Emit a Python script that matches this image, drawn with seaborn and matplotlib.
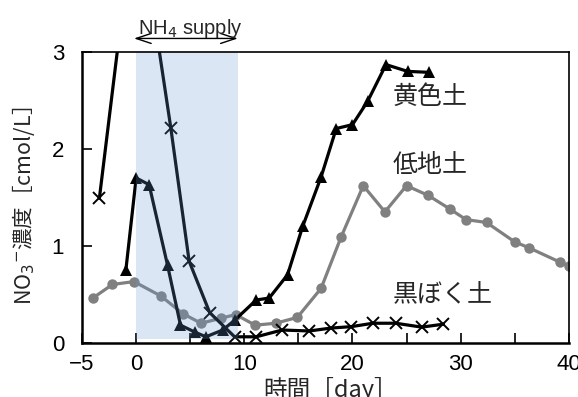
import matplotlib
matplotlib.use("Agg")
import matplotlib.pyplot as plt
import seaborn as sns
import pandas as pd

# 黒ぼく土 (crosses)
kuroboku_day = [-3.4, 0.0, 3.2, 4.9, 6.8, 9.1, 11.1, 13.5, 16.0, 18.0, 19.9, 21.9, 24.0, 26.4, 28.4]
kuroboku_no3 = [1.49, 4.6, 2.22, 0.84, 0.31, 0.06, 0.06, 0.13, 0.12, 0.15, 0.165, 0.20, 0.20, 0.16, 0.19]

# 黄色土 (triangles)
kiiro_day = [-0.95, 0.0, 1.2, 2.9, 4.1, 5.4, 6.45, 8.0, 9.1, 11.1, 12.3, 14.0, 15.4, 17.1, 18.5, 20.0, 21.4, 23.1, 25.1, 27.1]
kiiro_no3 = [0.75, 1.70, 1.63, 0.80, 0.18, 0.11, 0.06, 0.13, 0.23, 0.44, 0.46, 0.70, 1.20, 1.71, 2.21, 2.25, 2.49, 2.87, 2.80, 2.79]

# 低地土 (grey circles)
teichi_day = [-4.0, -2.2, -0.2, 2.3, 4.3, 6.0, 7.8, 9.2, 11.0, 12.9, 14.9, 17.1, 18.95, 21.0, 23.0, 25.0, 27.0, 29.0, 30.5, 32.4, 35.0, 36.3, 39.2, 40.0]
teichi_no3 = [0.46, 0.60, 0.63, 0.48, 0.30, 0.20, 0.25, 0.29, 0.18, 0.20, 0.26, 0.56, 1.09, 1.62, 1.35, 1.62, 1.52, 1.38, 1.27, 1.24, 1.04, 0.98, 0.83, 0.79]

supply_start, supply_end = 0.0, 9.4
x_ticks = [-5, 0, 5, 10, 15, 20, 25, 30, 35, 40]
x_tick_labels = ["−5", "0", "", "10", "", "20", "", "30", "", "40"]
y_ticks = [0, 1, 2, 3]

sns.set_theme(style="ticks")
plt.rcParams["font.family"] = ["Noto Sans CJK JP", "DejaVu Sans"]
plt.rcParams["axes.unicode_minus"] = True
latin = ["Liberation Sans", "DejaVu Sans"]

fig = plt.figure(figsize=(5.78, 3.97), dpi=100)
ax = fig.add_axes([0.142, 0.137, 0.842, 0.732])

df_kiiro = pd.DataFrame({"day": kiiro_day, "no3": kiiro_no3})
df_teichi = pd.DataFrame({"day": teichi_day, "no3": teichi_no3})
df_kuro = pd.DataFrame({"day": kuroboku_day, "no3": kuroboku_no3})

sns.lineplot(data=df_teichi, x="day", y="no3", sort=False, ax=ax, color="#808080",
             linewidth=2.3, marker="o", markersize=7.5, markeredgewidth=0,
             markeredgecolor="#808080", zorder=2)
sns.lineplot(data=df_kuro, x="day", y="no3", sort=False, ax=ax, color="black",
             linewidth=2.3, marker="x", markersize=9, markeredgewidth=1.4,
             markeredgecolor="black", zorder=3)
sns.lineplot(data=df_kiiro, x="day", y="no3", sort=False, ax=ax, color="black",
             linewidth=2.3, marker="^", markersize=8.5, markeredgewidth=0,
             markeredgecolor="black", zorder=4)

# NH4 supply period, laid over the lines as a translucent band
ax.axvspan(supply_start, supply_end, ymin=0.012, ymax=1, color=(104/255, 154/255, 212/255),
           alpha=0.24, lw=0, zorder=5)
ax.annotate("", xy=(supply_start - 0.2, 3.14), xytext=(supply_end, 3.14),
            xycoords="data", annotation_clip=False,
            arrowprops=dict(arrowstyle="<->,head_length=0.9,head_width=0.3", lw=1.0, color="black",
                            shrinkA=0, shrinkB=0))
ax.text(5.0, 3.24, "NH$_4$ supply", ha="center", va="center",
        fontsize=14.5, family=latin, clip_on=False)

ax.text(23.7, 2.54, "黄色土", fontsize=18, ha="left", va="center")
ax.text(23.7, 1.83, "低地土", fontsize=18, ha="left", va="center")
ax.text(23.7, 0.49, "黒ぼく土", fontsize=18, ha="left", va="center")

ax.set_xlim(-5, 40)
ax.set_ylim(0, 3)
ax.set_xticks(x_ticks)
ax.set_xticklabels(x_tick_labels)
ax.set_yticks(y_ticks)
ax.tick_params(axis="both", direction="in", length=7, width=1.2, labelsize=16, colors="black")
ax.tick_params(axis="x", pad=8)
ax.tick_params(axis="y", pad=13)
for lbl in ax.get_xticklabels() + ax.get_yticklabels():
    lbl.set_family(latin)

ax.set_xlabel("時間［day］", fontsize=17)
ax.xaxis.set_label_coords(0.511, -0.12)
ax.set_ylabel("NO$_3$$^{-}$濃度［cmol/L］", fontsize=15.5)
ax.yaxis.set_label_coords(-0.092, 0.47)

for side in ["top", "right"]:
    ax.spines[side].set_visible(True)
    ax.spines[side].set_linewidth(1.2)
for side in ["bottom", "left"]:
    ax.spines[side].set_linewidth(1.8)
for s in ax.spines.values():
    s.set_color("black")
    s.set_zorder(6)

fig.savefig("out.png", dpi=100)
